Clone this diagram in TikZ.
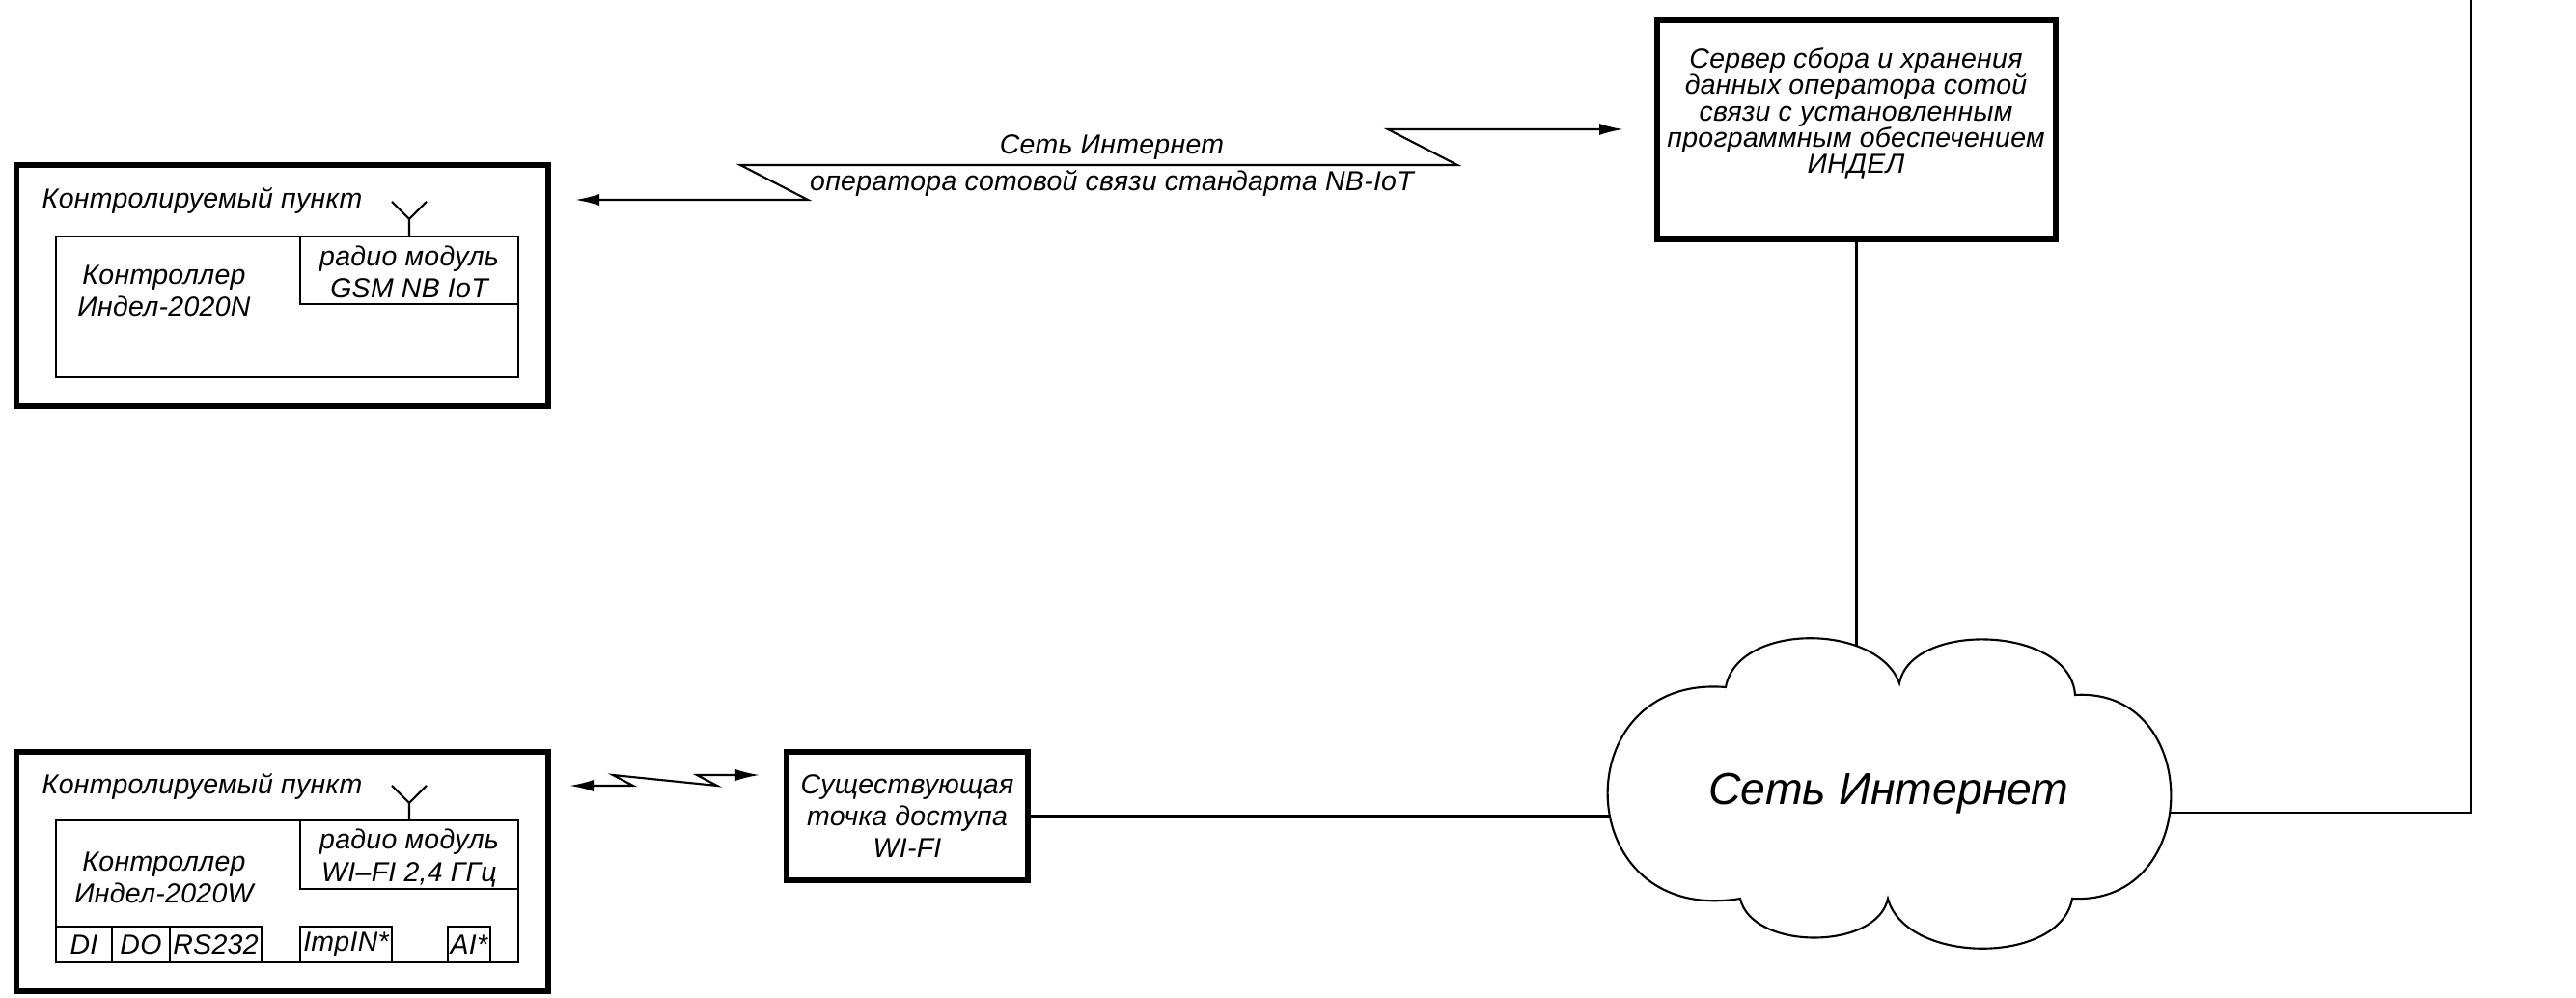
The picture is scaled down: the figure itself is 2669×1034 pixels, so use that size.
\documentclass[tikz,border=0pt]{standalone}
\usepackage{fontspec}
\newfontfamily\gost{Liberation Sans}[LetterSpace=1.0]
\newfontfamily\gostnarrow{Liberation Sans}
\usetikzlibrary{arrows.meta}
\tikzset{
  thinbox/.style={draw, line width=0.6pt, inner sep=0pt},
  thickbox/.style={draw, line width=1.6pt, inner sep=0pt},
  txt/.style={font=\gost\itshape\fontsize{8.1}{9.4}\selectfont, inner sep=0pt, align=center},
  link/.style={line width=0.6pt},
  both/.style={{Latex[length=0.25cm,width=0.12cm]}-{Latex[length=0.25cm,width=0.12cm]}}
}
\begin{document}
\begin{tikzpicture}[x=0.01cm,y=-0.01cm]
\useasboundingbox (0,0) rectangle (2669,1034);
% контролируемый пункт с NB-IoT
\node[thickbox, minimum width=5.51cm, minimum height=2.5cm] (kp1) at (292.5,296) {};
\node[thinbox, minimum width=4.79cm, minimum height=1.46cm] (ctl1) at (297.5,318) {};
\node[thinbox, minimum width=2.26cm, minimum height=0.70cm] (rm1) at (424,280) {};
\node[txt, anchor=west] (kp1t) at (43,208) {Контролируемый пункт};
\node[txt] (ctl1t) at (170,301) {Контроллер\\Индел-2020N};
\node[txt] (rm1t) at (424,282) {радио модуль\\GSM NB IoT};
\draw[link] (rm1.north) -- ++(0,-17) coordinate (ant1) -- ++(-18,-18) (ant1) -- ++(18,-18);
% контролируемый пункт с WI-FI
\node[thickbox, minimum width=5.51cm, minimum height=2.48cm] (kp2) at (292.5,903) {};
\node[thinbox, minimum width=4.79cm, minimum height=1.47cm] (ctl2) at (297.5,923.5) {};
\node[thinbox, minimum width=2.26cm, minimum height=0.71cm] (rm2) at (424,885.5) {};
\node[txt, anchor=west] (kp2t) at (43,815) {Контролируемый пункт};
\node[txt] (ctl2t) at (170,909) {Контроллер\\Индел-2020W};
\node[txt] (rm2t) at (424,889) {радио модуль\\WI–FI 2,4 ГГц};
\draw[link] (rm2.north) -- ++(0,-17) coordinate (ant2) -- ++(-18,-18) (ant2) -- ++(18,-18);
\node[thinbox, txt, minimum width=0.58cm, minimum height=0.37cm] (di) at (87,978.5) {DI};
\node[thinbox, txt, minimum width=0.60cm, minimum height=0.37cm] (do) at (146,978.5) {DO};
\node[thinbox, txt, minimum width=0.95cm, minimum height=0.37cm] (rs) at (223.5,978.5) {RS232};
\node[thinbox, txt, minimum width=0.95cm, minimum height=0.37cm] (imp) at (358.5,978.5) {ImpIN*};
\node[thinbox, txt, minimum width=0.44cm, minimum height=0.37cm] (ai) at (486,978.5) {AI*};
% радиоканал NB-IoT
\coordinate (nbL) at (596,207);
\coordinate (nbR) at (1682,134);
\draw[link, both] (nbL) -- ++(241,0) -- ++(-70,-36) -- ++(743,0) -- ++(-72,-37) -- (nbR);
\node[txt] (nbt1) at (1152,153) {Сеть Интернет};
\node[txt] (nbt2) at (1152,190) {оператора сотовой связи стандарта NB-IoT};
% радиоканал WI-FI
\coordinate (wfL) at (590,814);
\coordinate (wfR) at (787,803);
\draw[link, both] (wfL) -- ++(66,0) -- ++(-21,-11) -- ++(108,11) -- ++(-21,-11) -- (wfR);
\node[thickbox, txt, minimum width=2.5cm, minimum height=1.33cm] (ap) at (940,845.5) {Существующая\\точка доступа\\WI-FI};
% сервер
\node[thickbox, minimum width=4.13cm, minimum height=2.27cm] (srv) at (1923.5,134.5) {};
\node[txt, font=\gost\itshape\fontsize{8.1}{7.8}\selectfont] (srvt) at (1923,117.5) {Сервер сбора и хранения\\данных оператора сотой\\связи с установленным\\программным обеспечением\\ИНДЕЛ};
% облако
\draw[link] (1788,712) .. controls (1800,645) and (1945,645) .. (1968,708)
  .. controls (1980,643) and (2145,648) .. (2150,720)
  .. controls (2283,712) and (2283,938) .. (2147,931)
  .. controls (2135,1000) and (1975,1000) .. (1956,931)
  .. controls (1945,985) and (1815,985) .. (1803,931)
  .. controls (1625,960) and (1620,698) .. cycle;
\node[txt, font=\gostnarrow\itshape\fontsize{13.2}{16}\selectfont] (net) at (1957,822) {Сеть Интернет};
\coordinate (cN) at (1923.5,670);
\coordinate (cW) at (1668,845);
\coordinate (cE) at (2249,842);
\coordinate (up) at (2560,0);
\draw[link] (srv.south) -- (cN);
\draw[link] (ap.east) -- (ap.east -| cW);
\draw[link] (cE) -- (cE -| up) -- (up);
\end{tikzpicture}
\end{document}
